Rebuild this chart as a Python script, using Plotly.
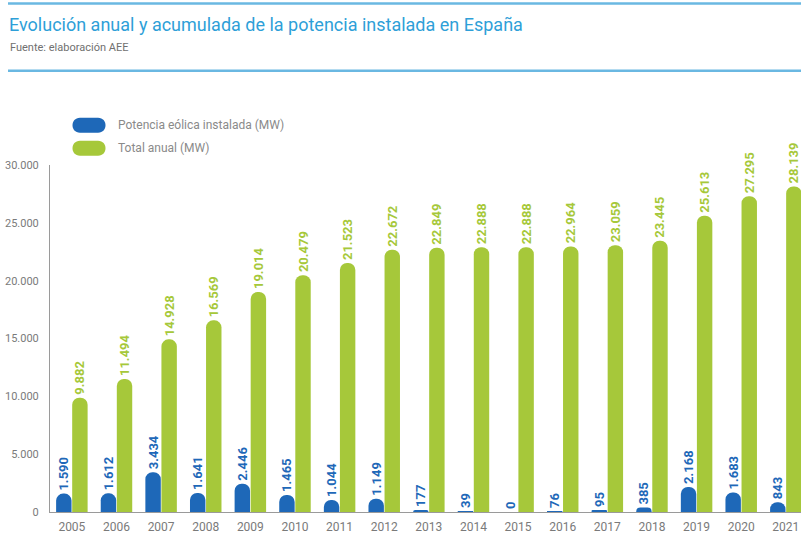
import plotly.graph_objects as go

# Installed wind power in Spain, annual additions and cumulative total (MW)
years = ["2005", "2006", "2007", "2008", "2009", "2010", "2011", "2012", "2013",
         "2014", "2015", "2016", "2017", "2018", "2019", "2020", "2021"]
annual_mw = [1590, 1612, 3434, 1641, 2446, 1465, 1044, 1149, 177,
             39, 0, 76, 95, 385, 2168, 1683, 843]
total_mw = [9882, 11494, 14928, 16569, 19014, 20479, 21523, 22672, 22849,
            22888, 22888, 22964, 23059, 23445, 25613, 27295, 28139]

y_tick_vals = [0, 5000, 10000, 15000, 20000, 25000, 30000]
y_tick_text = ["0", "5.000", "10.000", "15.000", "20.000", "25.000", "30.000"]

series_names = ["Potencia eólica instalada (MW)", "Total anual (MW)"]
title_text = "Evolución anual y acumulada de la potencia instalada en España"
source_text = "Fuente: elaboración AEE"

BLUE = "#1e68b8"
GREEN = "#a6c83a"
HEADER = "#2e9fd8"
W, H = 801, 534
L, R, T, B = 50, 0, 165, 19


def es_fmt(v):
    return f"{v:,}".replace(",", ".")


def px_x(px):
    return (px - L) / (W - L - R)


def px_y(py):
    return (H - B - py) / (H - T - B)


label_font = "Roboto, sans-serif"

fig = go.Figure()
for name, vals, color in [(series_names[0], annual_mw, BLUE),
                          (series_names[1], total_mw, GREEN)]:
    fig.add_trace(go.Bar(
        x=years, y=vals, name=name,
        marker=dict(color=color, cornerradius="50%", line=dict(width=0)),
        text=[es_fmt(v) for v in vals],
        textposition="outside", textangle=-90, constraintext="none",
        textfont=dict(family=label_font, size=13, color=color, weight="bold"),
        cliponaxis=False, showlegend=False,
    ))

shapes = []
annotations = []

# header rules
for py in (2, 70):
    shapes.append(dict(type="line", xref="paper", yref="paper",
                       x0=px_x(8), x1=px_x(W), y0=px_y(py), y1=px_y(py),
                       line=dict(color="#6ab8e2", width=2.5)))

annotations.append(dict(text=title_text, xref="paper", yref="paper",
                        x=px_x(7), y=px_y(23), xanchor="left", yanchor="middle",
                        showarrow=False,
                        font=dict(family="Roboto, sans-serif", size=18, color=HEADER)))
annotations.append(dict(text=source_text, xref="paper", yref="paper",
                        x=px_x(8), y=px_y(46), xanchor="left", yanchor="middle",
                        showarrow=False,
                        font=dict(family="Roboto, sans-serif", size=11, color="#707070")))

# legend: pill swatches with labels
r = 7.5
half = 9
pill = (f"M {-half},{-r} L {half},{-r} "
        f"C {half + 4 / 3 * r},{-r} {half + 4 / 3 * r},{r} {half},{r} "
        f"L {-half},{r} "
        f"C {-half - 4 / 3 * r},{r} {-half - 4 / 3 * r},{-r} {-half},{-r} Z")
for name, color, py in [(series_names[0], BLUE, 125), (series_names[1], GREEN, 148)]:
    shapes.append(dict(type="path", path=pill, xref="paper", yref="paper",
                       xsizemode="pixel", ysizemode="pixel",
                       xanchor=px_x(89), yanchor=px_y(py),
                       fillcolor=color, line=dict(width=0)))
    annotations.append(dict(text=name, xref="paper", yref="paper",
                            x=px_x(116), y=px_y(py), xanchor="left", yanchor="middle",
                            showarrow=False,
                            font=dict(family="Roboto, sans-serif", size=12, color="#8a8a8a")))

fig.update_layout(
    width=W, height=H,
    margin=dict(l=L, r=R, t=T, b=B, pad=0),
    paper_bgcolor="white", plot_bgcolor="white",
    barmode="group", bargap=0.28, bargroupgap=0.04,
    shapes=shapes, annotations=annotations,
    showlegend=False,
)
fig.update_xaxes(type="category", range=[-0.49, 16.34],
                 showgrid=False, showline=True, linecolor="#9a9a9a", linewidth=1,
                 ticks="", ticklabelstandoff=4,
                 tickfont=dict(family=label_font, size=12, color="#7a7a7a"))
fig.update_yaxes(range=[0, 30000], tickvals=y_tick_vals, ticktext=y_tick_text,
                 showgrid=False, zeroline=False, showline=True,
                 linecolor="#9a9a9a", linewidth=1, ticks="", ticklabelstandoff=8,
                 tickfont=dict(family=label_font, size=11, color="#7a7a7a"))

fig.write_html("out.html")
